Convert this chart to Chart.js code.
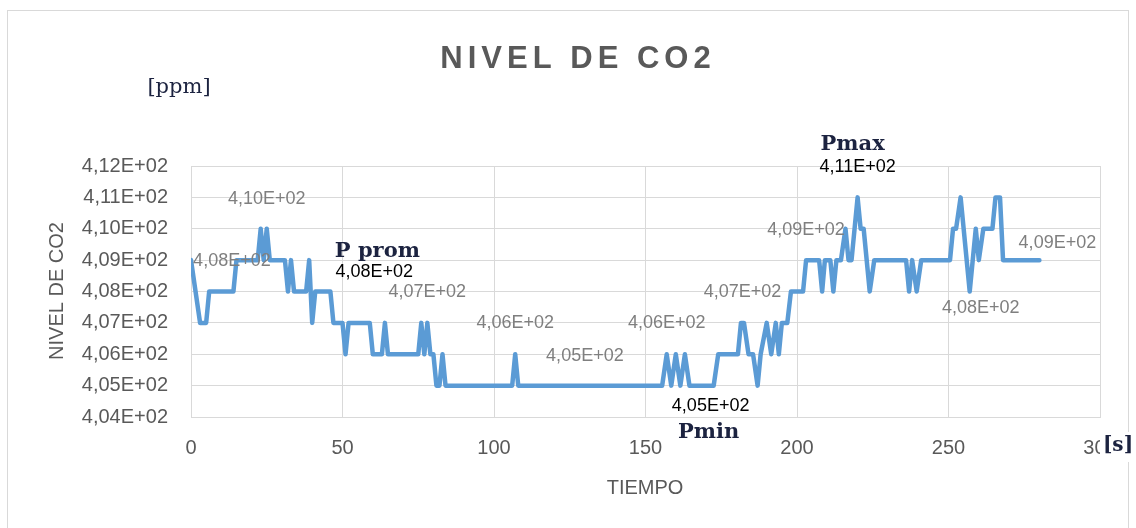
<!DOCTYPE html>
<html>
<head>
<meta charset="utf-8">
<title>Nivel de CO2</title>
<script src="https://cdn.jsdelivr.net/npm/chart.js@4.4.0/dist/chart.umd.min.js"></script>
<style>
  html, body { margin: 0; padding: 0; background: #ffffff; }
  #wrap { width: 1136px; height: 528px; position: relative; }
  canvas { display: block; }
</style>
</head>
<body>
<div id="wrap"><canvas id="grafico" width="1136" height="528"></canvas></div>
<script>
// Lectura del sensor: tiempo [s] y nivel de CO2 [ppm] en los puntos de cambio
const tiempo = [
  0, 3, 5, 6, 14, 15, 22, 23, 24, 25, 26, 31, 32, 33, 34, 38, 39, 40, 41, 46,
  47, 50, 51, 52, 59, 60, 63, 64, 65, 75, 76, 77, 78, 79, 80, 81, 82, 83, 84, 106,
  107, 108, 155.5, 157, 158.5, 160, 161.5, 163, 164.5, 172.5, 174, 180.5, 181.5, 182.5, 184, 185.5, 187, 188, 190, 191.5,
  193, 194, 195, 196.8, 198, 202, 203, 207.3, 208.3, 209.2, 211, 212, 213, 214.5, 216, 217, 218, 220, 221, 222,
  224, 225.5, 236, 237, 238, 239.5, 241, 250.5, 251.5, 252.5, 254, 257, 259, 260, 261.5, 264.5, 265.5, 267, 268, 280
];
const co2 = [
  409, 407, 407, 408, 408, 409, 409, 410, 409, 410, 409, 409, 408, 409, 408, 408, 409, 407, 408, 408,
  407, 407, 406, 407, 407, 406, 406, 407, 406, 406, 407, 406, 407, 406, 406, 405, 405, 406, 405, 405,
  406, 405, 405, 406, 405, 406, 405, 406, 405, 405, 406, 406, 407, 407, 406, 406, 405, 406, 407, 406,
  407, 406, 407, 407, 408, 408, 409, 409, 408, 409, 409, 408, 409, 409, 410, 409, 409, 411, 410, 410,
  408, 409, 409, 408, 409, 408, 409, 409, 410, 410, 411, 408, 410, 409, 410, 410, 411, 411, 409, 409
];

// Marcas del eje
const ejeX = { min: 0, max: 300, paso: 50 };
const ejeY = { min: 404, max: 412, paso: 1 };

// Etiquetas de valor sobre la curva (tiempo y valor del punto rotulado)
const etiquetaT = [13.5, 25, 78, 107, 130, 157, 182, 203, 280, 257];
const etiquetaV = [408, 410, 407, 406, 405, 406, 407, 409, 409, 408];

// Valores destacados: promedio, máximo y mínimo
const destacadoNombre = ['P prom', 'Pmax', 'Pmin'];
const destacadoT = [60.5, 220, 171.5];
const destacadoV = [408, 411, 405];

// Formato científico con coma decimal, p. ej. 4,08E+02
function cientifico(v) {
  return (v / 100).toFixed(2).replace('.', ',') + 'E+02';
}

// Desplazamientos de texto respecto a cada punto rotulado [dx, dy]
const despEtiqueta = [[0, -30], [0, -30], [0, -31], [0, -31], [0, -30], [0, -31], [0, -31], [0, -30], [18, -17], [11, 17]];
const despDestacadoValor = [[0, -19], [0, -30], [0, 20]];
const despDestacadoNombre = [[3, -40], [-5, -53], [-2, 47]];

const GRIS_TEXTO = '#595959';
const GRIS_ETIQ = '#7f7f7f';
const GRIS_REJILLA = '#d9d9d9';
const AZUL = '#5b9bd5';

const textos = {
  id: 'textos',
  afterDraw(chart) {
    const ctx = chart.ctx;
    const sx = chart.scales.x, sy = chart.scales.y;
    ctx.save();

    // marco exterior
    ctx.strokeStyle = GRIS_REJILLA;
    ctx.lineWidth = 1;
    ctx.strokeRect(7.5, 10.5, 1121, 530);

    // título
    ctx.fillStyle = GRIS_TEXTO;
    ctx.font = 'bold 31px "Liberation Sans", Arial, sans-serif';
    ctx.textAlign = 'center';
    ctx.textBaseline = 'middle';
    if ('letterSpacing' in ctx) ctx.letterSpacing = '5px';
    ctx.fillText('NIVEL DE CO2', 578, 59);
    if ('letterSpacing' in ctx) ctx.letterSpacing = '0px';

    // títulos de ejes
    ctx.font = '20px "Liberation Sans", Arial, sans-serif';
    ctx.fillText('TIEMPO', 645, 488);
    ctx.save();
    ctx.translate(57, 291);
    ctx.rotate(-Math.PI / 2);
    ctx.fillText('NIVEL DE CO2', 0, 0);
    ctx.restore();

    // unidades
    ctx.fillStyle = '#1c2340';
    ctx.font = '21px "DejaVu Serif", serif';
    ctx.fillText('[ppm]', 179, 88);
    ctx.fillStyle = '#ffffff';
    ctx.fillRect(1100, 432, 34, 30);
    ctx.fillStyle = '#1c2340';
    ctx.font = 'bold 20px "DejaVu Serif", serif';
    ctx.fillText('[s]', 1118, 446);

    // etiquetas de valor
    ctx.fillStyle = GRIS_ETIQ;
    ctx.font = '18px "Liberation Sans", Arial, sans-serif';
    etiquetaT.forEach((t, i) => {
      const px = sx.getPixelForValue(t) + despEtiqueta[i][0];
      const py = sy.getPixelForValue(etiquetaV[i]) + despEtiqueta[i][1];
      ctx.fillText(cientifico(etiquetaV[i]), px, py);
    });

    // valores destacados
    destacadoT.forEach((t, i) => {
      const bx = sx.getPixelForValue(t);
      const by = sy.getPixelForValue(destacadoV[i]);
      ctx.fillStyle = '#000000';
      ctx.font = '18px "Liberation Sans", Arial, sans-serif';
      ctx.fillText(cientifico(destacadoV[i]), bx + despDestacadoValor[i][0], by + despDestacadoValor[i][1]);
      ctx.fillStyle = '#1c2340';
      ctx.font = 'bold 21px "DejaVu Serif", serif';
      ctx.fillText(destacadoNombre[i], bx + despDestacadoNombre[i][0], by + despDestacadoNombre[i][1]);
    });

    ctx.restore();
  }
};

const fondo = {
  id: 'fondo',
  beforeDraw(chart) {
    const ctx = chart.ctx;
    ctx.save();
    ctx.fillStyle = '#ffffff';
    ctx.fillRect(0, 0, chart.width, chart.height);
    ctx.restore();
  }
};

new Chart(document.getElementById('grafico'), {
  type: 'scatter',
  data: {
    datasets: [{
      label: 'NIVEL DE CO2',
      data: tiempo.map((t, i) => ({ x: t, y: co2[i] })),
      showLine: true,
      borderColor: AZUL,
      borderWidth: 4.5,
      pointRadius: 0,
      pointHoverRadius: 0,
      tension: 0,
      borderJoinStyle: 'round',
      borderCapStyle: 'round'
    }]
  },
  options: {
    responsive: false,
    animation: false,
    events: [],
    layout: { padding: { left: 0, top: 166, right: 36, bottom: 0 } },
    plugins: { legend: { display: false }, tooltip: { enabled: false }, title: { display: false } },
    scales: {
      x: {
        type: 'linear',
        min: ejeX.min, max: ejeX.max,
        afterFit(scale) { scale.height = 111; },
        grid: { color: GRIS_REJILLA, drawTicks: false, lineWidth: 1 },
        border: { display: true, color: GRIS_REJILLA },
        ticks: {
          stepSize: ejeX.paso,
          padding: 19,
          color: GRIS_TEXTO,
          font: { family: '"Liberation Sans", Arial, sans-serif', size: 20 },
          maxRotation: 0
        }
      },
      y: {
        min: ejeY.min, max: ejeY.max,
        afterFit(scale) { scale.width = 191; },
        grid: { color: GRIS_REJILLA, drawTicks: false, lineWidth: 1 },
        border: { display: true, color: GRIS_REJILLA },
        ticks: {
          stepSize: ejeY.paso,
          padding: 23,
          color: GRIS_TEXTO,
          font: { family: '"Liberation Sans", Arial, sans-serif', size: 20 },
          callback: (v) => cientifico(v)
        }
      }
    }
  },
  plugins: [fondo, textos]
});
</script>
</body>
</html>
